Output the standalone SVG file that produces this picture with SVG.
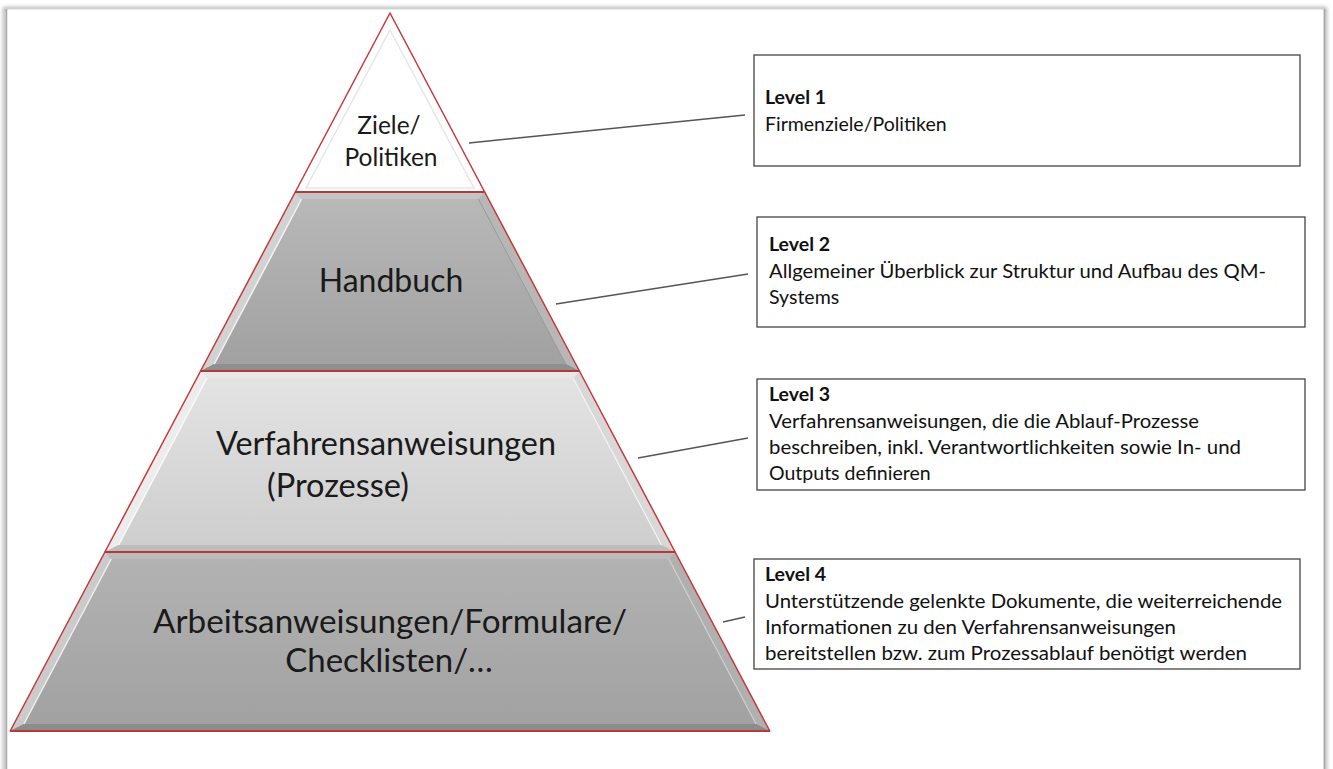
<svg xmlns="http://www.w3.org/2000/svg" width="1333" height="769" viewBox="0 0 1333 769">
<defs>
<style>
.lbl{font-family:Lato,"Liberation Sans",sans-serif;fill:#1a1a1a;text-anchor:middle}
.bx{fill:#fff;stroke:#444;stroke-width:1.3}
.t{font-family:Lato,"Liberation Sans",sans-serif;font-size:19.5px;fill:#111}
.b{font-weight:bold}
.con line{stroke:#555;stroke-width:1.5}
.red{fill:none;stroke:#c8373a;stroke-width:1.5;stroke-linejoin:round}
.sep{stroke:#b8383a;stroke-width:2.2}
</style>
<linearGradient id="gDark" x1="0" y1="0" x2="0" y2="1">
<stop offset="0" stop-color="#b9b9b9"/><stop offset="1" stop-color="#a0a0a0"/>
</linearGradient>
<linearGradient id="gDark4" x1="0" y1="0" x2="0" y2="1">
<stop offset="0" stop-color="#b3b3b3"/><stop offset="1" stop-color="#a1a1a1"/>
</linearGradient>
<linearGradient id="gLight" x1="0" y1="0" x2="0" y2="1">
<stop offset="0" stop-color="#e4e4e4"/><stop offset="1" stop-color="#cdcdcd"/>
</linearGradient>
<filter id="sh" x="-5%" y="-5%" width="110%" height="110%">
<feGaussianBlur stdDeviation="2"/>
</filter>
</defs>
<rect width="1333" height="769" fill="#fff"/>
<!-- page frame -->
<g id="frame">
<rect x="5" y="9" width="1320" height="790" fill="none" stroke="#9a9a9a" stroke-width="3" filter="url(#sh)"/>
<rect x="6" y="9" width="1318" height="790" fill="#fff" stroke="#d6d6d6" stroke-width="1"/>
<line x1="6.5" y1="9" x2="6.5" y2="769" stroke="#a8a8a8" stroke-width="1.5"/>
<line x1="1324.5" y1="9" x2="1324.5" y2="769" stroke="#a8a8a8" stroke-width="1.5"/>
</g>
<!-- Level 1 -->
<g id="level1">
<polygon points="390,13 484.7,192 295.3,192" fill="#fff"/>
<polygon points="390,30 474,188 306,188" fill="none" stroke="#e6e6e6" stroke-width="1.5"/>
<polygon points="390,13 484.7,192 295.3,192" class="red"/>
<text class="lbl" font-size="24.5" x="389" y="134">Ziele/</text>
<text class="lbl" font-size="24.5" x="391" y="166">Politiken</text>
</g>
<!-- Level 2 -->
<g id="level2">
<polygon points="295.3,192 484.7,192 579.4,371 200.6,371" fill="url(#gDark)"/>
<polygon points="295.3,192 301.6,199 214.3,364 200.6,371" fill="#d2d2d2"/>
<polygon points="484.7,192 579.4,371 565.7,364 478.4,199" fill="#b7b7b7"/>
<polygon points="200.6,371 579.4,371 565.7,364 214.3,364" fill="#8f8f8f"/>
<polygon points="295.3,192 484.7,192 478.4,199 301.6,199" fill="#c4c4c4"/>
<line x1="301.6" y1="199" x2="214.3" y2="364" stroke="#f2f2f2" stroke-width="1.5"/>
<line x1="478.4" y1="199" x2="565.7" y2="364" stroke="#9a9a9a" stroke-width="1"/>
<polygon points="295.3,192 484.7,192 579.4,371 200.6,371" class="red"/>
<text class="lbl" font-size="32" x="391" y="292">Handbuch</text>
</g>
<!-- Level 3 -->
<g id="level3">
<polygon points="200.6,371 579.4,371 675.1,552 104.9,552" fill="url(#gLight)"/>
<polygon points="200.6,371 206.9,378 118.6,545 104.9,552" fill="#ececec"/>
<polygon points="579.4,371 675.1,552 661.4,545 573.1,378" fill="#d8d8d8"/>
<polygon points="104.9,552 675.1,552 661.4,545 118.6,545" fill="#bdbdbd"/>
<polygon points="200.6,371 579.4,371 573.1,378 206.9,378" fill="#e8e8e8"/>
<line x1="206.9" y1="378" x2="118.6" y2="545" stroke="#fafafa" stroke-width="1.5"/>
<line x1="573.1" y1="378" x2="661.4" y2="545" stroke="#f4f4f4" stroke-width="1.2"/>
<polygon points="200.6,371 579.4,371 675.1,552 104.9,552" class="red"/>
<text class="lbl" font-size="32.5" x="386" y="455" textLength="340" lengthAdjust="spacingAndGlyphs">Verfahrensanweisungen</text>
<text class="lbl" font-size="32.5" x="338" y="497">(Prozesse)</text>
</g>
<!-- Level 4 -->
<g id="level4">
<polygon points="104.9,552 675.1,552 769.8,731 10.2,731" fill="url(#gDark4)"/>
<polygon points="104.9,552 111.2,559 23.9,724 10.2,731" fill="#cbcbcb"/>
<polygon points="675.1,552 769.8,731 756.1,724 668.8,559" fill="#b0b0b0"/>
<polygon points="10.2,731 769.8,731 756.1,724 23.9,724" fill="#8c8c8c"/>
<polygon points="104.9,552 675.1,552 668.8,559 111.2,559" fill="#bcbcbc"/>
<line x1="111.2" y1="559" x2="23.9" y2="724" stroke="#eeeeee" stroke-width="1.5"/>
<line x1="668.8" y1="559" x2="756.1" y2="724" stroke="#d0d0d0" stroke-width="1.2"/>
<polygon points="104.9,552 675.1,552 769.8,731 10.2,731" class="red"/>
<text class="lbl" font-size="33" x="390" y="633" textLength="474" lengthAdjust="spacingAndGlyphs">Arbeitsanweisungen/Formulare/</text>
<text class="lbl" font-size="33" x="389" y="672">Checklisten/…</text>
</g>
<g id="separators">
<line class="sep" x1="295.3" y1="192" x2="484.7" y2="192"/>
<line class="sep" x1="200.6" y1="371" x2="579.4" y2="371"/>
<line class="sep" x1="104.9" y1="552" x2="675.1" y2="552"/>
<line class="sep" x1="10.2" y1="731" x2="769.8" y2="731"/>
</g>
<!-- connectors -->
<g id="connectors" class="con">
<line x1="469" y1="143" x2="745" y2="115"/>
<line x1="556" y1="304" x2="748" y2="274"/>
<line x1="638" y1="458" x2="748" y2="438"/>
<line x1="723" y1="622" x2="745" y2="617"/>
</g>
<!-- boxes -->
<g id="box1">
<rect class="bx" x="754" y="55" width="546" height="111"/>
<text class="t b" x="765" y="104">Level 1</text>
<text class="t" x="765" y="131">Firmenziele/Politiken</text>
</g>
<g id="box2">
<rect class="bx" x="757" y="217" width="548" height="110"/>
<text class="t b" x="769" y="251">Level 2</text>
<text class="t" x="769" y="278" textLength="497" lengthAdjust="spacingAndGlyphs">Allgemeiner Überblick zur Struktur und Aufbau des QM-</text>
<text class="t" x="769" y="304">Systems</text>
</g>
<g id="box3">
<rect class="bx" x="757" y="379" width="548" height="111"/>
<text class="t b" x="769" y="401">Level 3</text>
<text class="t" x="769" y="428" textLength="430" lengthAdjust="spacingAndGlyphs">Verfahrensanweisungen, die die Ablauf-Prozesse</text>
<text class="t" x="769" y="454" textLength="472" lengthAdjust="spacingAndGlyphs">beschreiben, inkl. Verantwortlichkeiten sowie In- und</text>
<text class="t" x="769" y="480">Outputs definieren</text>
</g>
<g id="box4">
<rect class="bx" x="754" y="559" width="546" height="110"/>
<text class="t b" x="765" y="581">Level 4</text>
<text class="t" x="765" y="608" textLength="517" lengthAdjust="spacingAndGlyphs">Unterstützende gelenkte Dokumente, die weiterreichende</text>
<text class="t" x="765" y="634" textLength="411" lengthAdjust="spacingAndGlyphs">Informationen zu den Verfahrensanweisungen</text>
<text class="t" x="765" y="660" textLength="482" lengthAdjust="spacingAndGlyphs">bereitstellen bzw. zum Prozessablauf benötigt werden</text>
</g>
</svg>
